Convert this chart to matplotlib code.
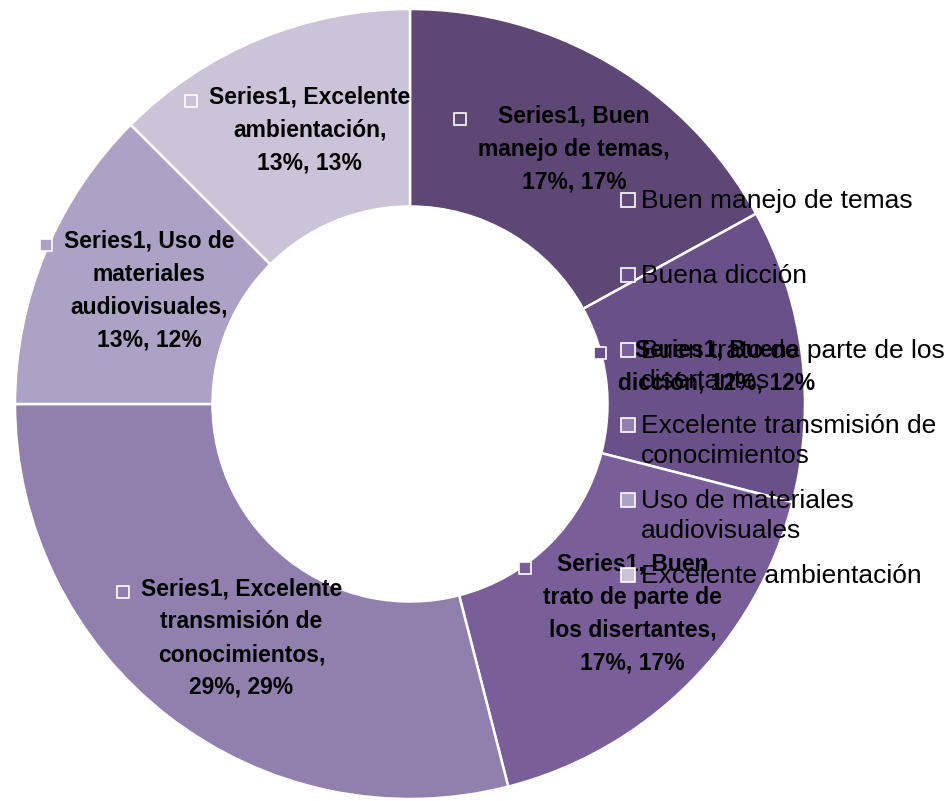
import numpy as np
import matplotlib
matplotlib.use("Agg")
import matplotlib.pyplot as plt

categories = ["Buen manejo de temas", "Buena dicción",
              "Buen trato de parte de los disertantes",
              "Excelente transmisión de conocimientos",
              "Uso de materiales audiovisuales", "Excelente ambientación"]
values = [17, 12, 17, 29, 12.5, 12.5]
colors = ["#5e4675", "#6a5089", "#7a5e9a", "#9180ae", "#ada2c5", "#cbc3d8"]
data_labels = ["Series1, Buen\nmanejo de temas,\n17%, 17%",
               "Series1, Buena\ndicción, 12%, 12%",
               "Series1, Buen\ntrato de parte de\nlos disertantes,\n17%, 17%",
               "Series1, Excelente\ntransmisión de\nconocimientos,\n29%, 29%",
               "Series1, Uso de\nmateriales\naudiovisuales,\n13%, 12%",
               "Series1, Excelente\nambientación,\n13%, 13%"]
legend_labels = ["Buen manejo de temas", "Buena dicción",
                 "Buen trato de parte de los\ndisertantes",
                 "Excelente transmisión de\nconocimientos",
                 "Uso de materiales\naudiovisuales",
                 "Excelente ambientación"]

W, H = 951, 801
cx, cy, R = 410, 404, 395  # donut centre / radius in pixels

fig = plt.figure(figsize=(W / 100, H / 100), dpi=100)
ax = fig.add_axes([0, 0, 1, 1])

wedges, _ = ax.pie(values, colors=colors, startangle=90, counterclock=False,
                   radius=1, wedgeprops=dict(width=0.5, edgecolor="white", linewidth=1.8))
ax.set_xlim(-cx / R, (W - cx) / R)
ax.set_ylim(-(H - cy) / R, cy / R)
ax.set_aspect("equal")
ax.axis("off")

# data labels in the middle of the ring
texts = []
for w, lab in zip(wedges, data_labels):
    ang = np.deg2rad((w.theta1 + w.theta2) / 2)
    x, y = 0.75 * np.cos(ang) + 0.033, 0.75 * np.sin(ang)
    t = ax.text(x, y, lab, ha="center", va="center", multialignment="center",
                fontsize=16.5, fontweight="bold", family="Liberation Sans",
                linespacing=1.55, color="black", zorder=5)
    texts.append(t)

fig.canvas.draw()
r = fig.canvas.get_renderer()
inv = ax.transData.inverted()
for t, c in zip(texts, colors):
    bb = t.get_window_extent(r)
    nlines = t.get_text().count("\n") + 1
    line_h = bb.height / nlines
    mx, my = inv.transform((bb.x0 - 18, bb.y1 - line_h / 2))
    ax.plot(mx, my, marker="s", ms=9, mfc=c, mec="white", mew=1.2, zorder=6)

# legend on the right, drawn by hand to match spacing
lx, ly0, step = 628, 200, 75
for i, (lab, c) in enumerate(zip(legend_labels, colors)):
    py = ly0 + i * step
    ax.plot((lx - cx) / R, (cy - py) / R, marker="s", ms=10, mfc=c, mec="white",
            mew=1.2, zorder=7, clip_on=False)
    ax.text((lx + 13 - cx) / R, (cy - py + 11) / R, lab, ha="left", va="top",
            fontsize=19, family="Liberation Sans", linespacing=1.3,
            color="black", zorder=7)

fig.savefig("out.png", dpi=100)
